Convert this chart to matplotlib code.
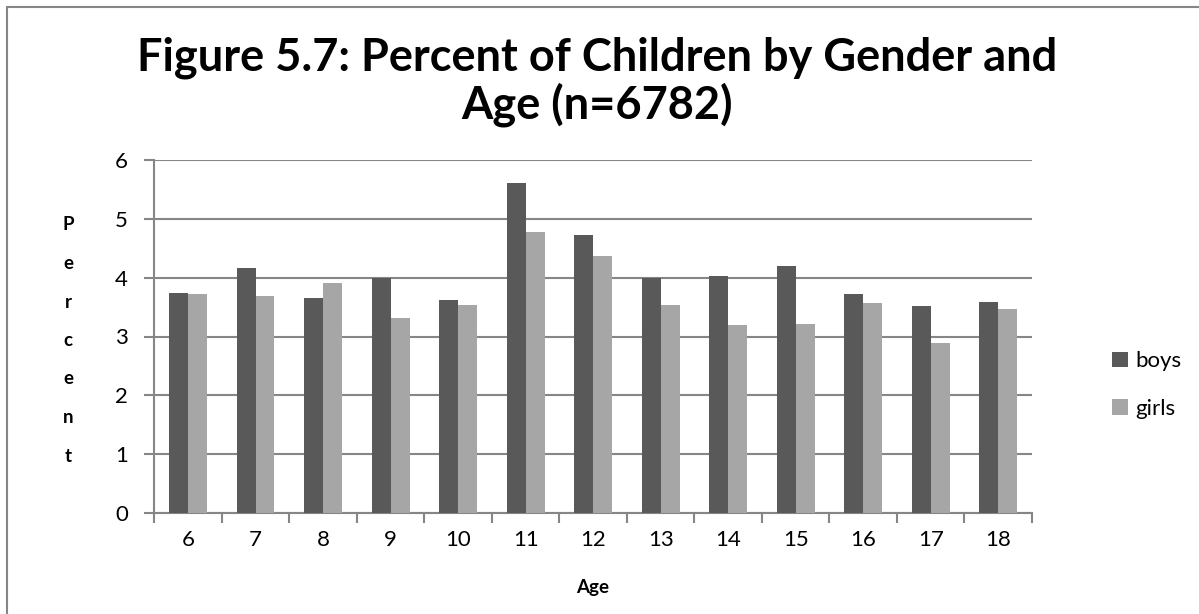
import matplotlib
matplotlib.use("Agg")
import matplotlib.pyplot as plt
import numpy as np
from matplotlib.patches import Rectangle

ages = ["6", "7", "8", "9", "10", "11", "12", "13", "14", "15", "16", "17", "18"]
boys = [3.74, 4.16, 3.66, 4.00, 3.62, 5.61, 4.72, 3.99, 4.02, 4.19, 3.72, 3.51, 3.59]
girls = [3.72, 3.69, 3.91, 3.32, 3.54, 4.78, 4.37, 3.53, 3.19, 3.22, 3.57, 2.89, 3.47]
yticks = [0, 1, 2, 3, 4, 5, 6]

FONT = "Lato"
W, H = 1199, 614
fig = plt.figure(figsize=(W / 100, H / 100), dpi=100)
fig.patch.set_facecolor("white")

# chart-area border
fig.patches.append(Rectangle((7 / W, -0.1), 1.2, 1 - 7 / H + 0.1, transform=fig.transFigure,
                             fill=False, edgecolor="#868686", linewidth=1.5))

ax = fig.add_axes([154.3 / W, 1 - 513 / H, (1032 - 154.3) / W, (513 - 160) / H])
x = np.arange(len(ages))
bw = 0.28
ax.bar(x - bw / 2, boys, width=bw, color="#595959", label="boys", zorder=3)
ax.bar(x + bw / 2, girls, width=bw, color="#a6a6a6", label="girls", zorder=3)

ax.set_xlim(-0.5, len(ages) - 0.5)
ax.set_ylim(0, 6)
ax.set_yticks(yticks)
ax.set_yticklabels([str(v) for v in yticks], fontsize=16, family=FONT)
ax.set_xticks(x)
ax.set_xticklabels(ages, fontsize=16, family=FONT)
ax.set_xticks(np.arange(-0.5, len(ages)), minor=True)
ax.tick_params(axis="x", which="major", length=0, pad=12)
ax.tick_params(axis="x", which="minor", length=7, width=1.5, color="#868686", direction="out")
ax.tick_params(axis="y", length=7, width=1.5, color="#868686", direction="out", pad=12)
ax.grid(axis="y", color="#868686", linewidth=1.5, zorder=0)
for s in ["top", "right"]:
    ax.spines[s].set_visible(False)
for s in ["left", "bottom"]:
    ax.spines[s].set_color("#868686")
    ax.spines[s].set_linewidth(1.5)

fig.text(597 / W, 1 - 58 / H, "Figure 5.7: Percent of Children by Gender and",
         ha="center", va="center", fontsize=32.5, fontweight="bold", family=FONT)
fig.text(597 / W, 1 - 105 / H, "Age (n=6782)",
         ha="center", va="center", fontsize=32.5, fontweight="bold", family=FONT)

fig.text(593 / W, 1 - 588 / H, "Age", ha="center", va="center", fontsize=13.5,
         fontweight="bold", family=FONT)
ylab = "Percent"
for i, ch in enumerate(ylab):
    fig.text(68 / W, 1 - (225 + i * 38.5) / H, ch.lower() if i else ch, ha="center", va="center",
             fontsize=13.5, fontweight="bold", family=FONT)

leg = ax.legend(loc="center left", bbox_to_anchor=(1092 / W, 1 - 385 / H),
                bbox_transform=fig.transFigure, frameon=False, prop={"family": FONT, "size": 16},
                handlelength=0.7, handleheight=0.7, handletextpad=0.35, labelspacing=1.25)

fig.savefig("out.png", dpi=100, facecolor="white")
